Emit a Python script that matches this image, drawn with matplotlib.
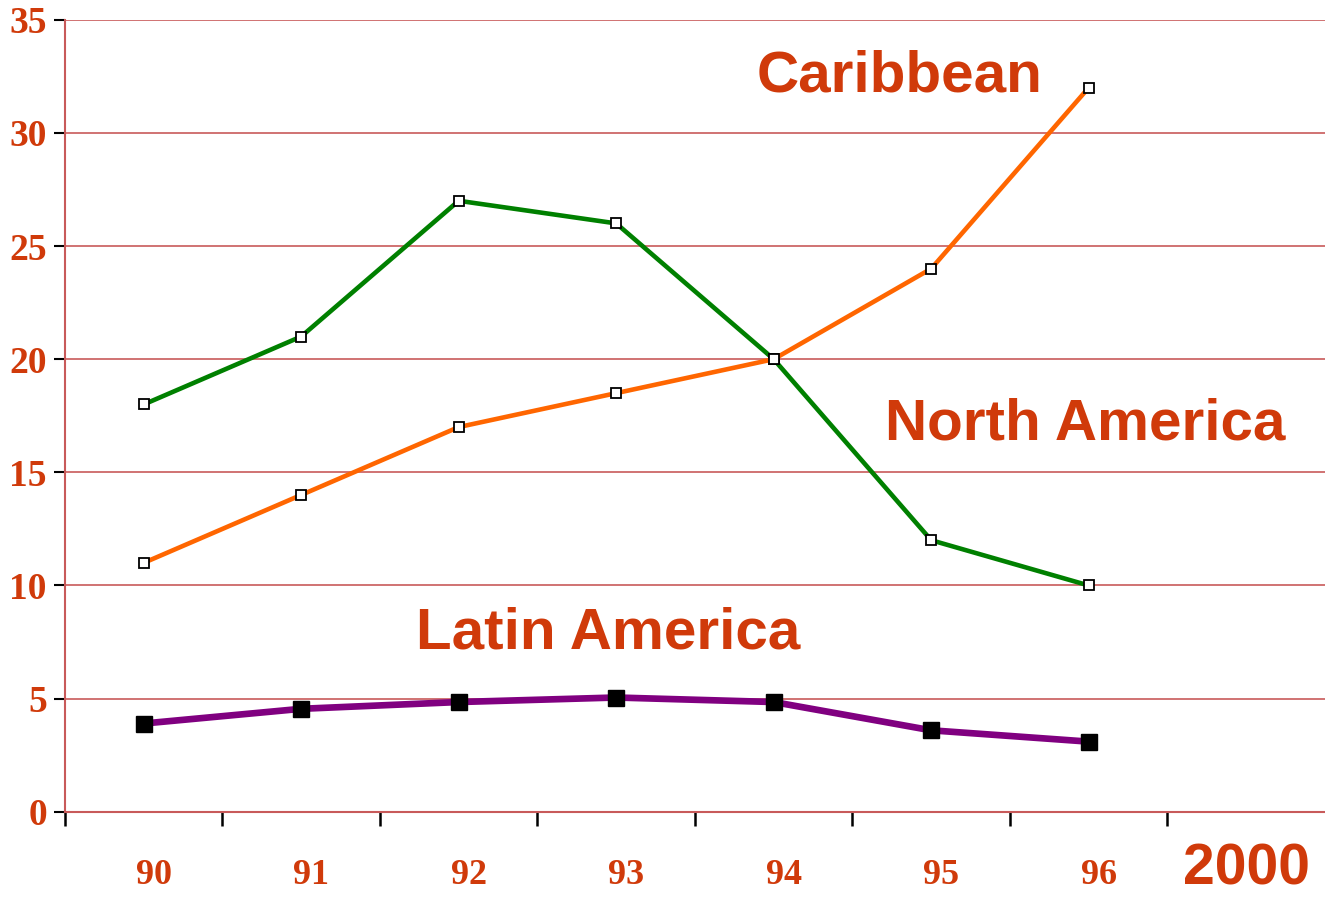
import numpy as np
import matplotlib.pyplot as plt
import matplotlib.transforms as mtransforms

# years along the x axis; the last slot carries the big "2000" label
years = ['90', '91', '92', '93', '94', '95', '96']
last_label = '2000'

caribbean = [11, 14, 17, 18.5, 20, 24, 32]          # orange
north_america = [18, 21, 27, 26, 20, 12, 10]        # green
latin_america = [3.9, 4.55, 4.85, 5.05, 4.85, 3.6, 3.1]  # purple

txt_color = '#d03a0a'
grid_color = '#c85a5a'

fig = plt.figure(figsize=(13.25, 8.97), dpi=100)
ax = fig.add_axes([0.049, 0.095, 0.951, 0.883])

x = np.arange(len(years)) + 0.5

ax.plot(x, north_america, color='#008000', lw=3.3, marker='s', ms=7,
        mfc='white', mec='black', mew=1.3, zorder=3)
ax.plot(x, caribbean, color='#ff6600', lw=3.3, marker='s', ms=7,
        mfc='white', mec='black', mew=1.3, zorder=3)
ax.plot(x, latin_america, color='#800080', lw=4.8, marker='s', ms=11,
        mfc='black', mec='black', zorder=3)

ax.set_xlim(0, len(years) + 1)
ax.set_ylim(0, 35)

# gridlines
ax.set_yticks(range(0, 36, 5))
ax.yaxis.grid(True, color=grid_color, lw=1.2)
ax.set_axisbelow(True)
for s in ['top', 'right']:
    ax.spines[s].set_visible(False)
ax.spines['left'].set_color(grid_color)
ax.spines['bottom'].set_color(grid_color)
ax.spines['left'].set_linewidth(1.5)
ax.spines['bottom'].set_linewidth(1.5)

ax.tick_params(axis='y', length=8, width=1.5, color='black', pad=5,
               labelcolor=txt_color, labelsize=27)
for lab in ax.get_yticklabels():
    lab.set_fontfamily('Liberation Serif')
    lab.set_fontweight('bold')

# tick marks at category boundaries, labels at centres
ax.set_xticks(np.arange(0, len(years) + 1), minor=True)
ax.tick_params(axis='x', which='minor', length=10, width=1.8, color='black')
ax.set_xticks(x)
ax.set_xticklabels(years)
ax.tick_params(axis='x', which='major', length=0, pad=34, labelcolor=txt_color,
               labelsize=26)
offset = mtransforms.ScaledTranslation(0.1, 0, fig.dpi_scale_trans)
for lab in ax.get_xticklabels():
    lab.set_fontfamily('Liberation Serif')
    lab.set_fontweight('bold')
    lab.set_transform(lab.get_transform() + offset)

ax.annotate(last_label, xy=(len(years) + 0.5, 0), xycoords=('data', 'axes fraction'),
            xytext=(0, -58), textcoords='offset pixels', ha='center', va='center',
            color=txt_color, fontsize=41, fontweight='bold',
            fontfamily='Liberation Sans', annotation_clip=False)

lbl = dict(color=txt_color, fontsize=42, fontweight='bold',
           fontfamily='Liberation Sans', ha='center', va='center')
ax.text(5.3, 32.5, 'Caribbean', **lbl)
ax.text(6.48, 17.1, 'North America', **lbl)
ax.text(3.45, 7.9, 'Latin America', **lbl)

fig.savefig('out.png', dpi=100)
